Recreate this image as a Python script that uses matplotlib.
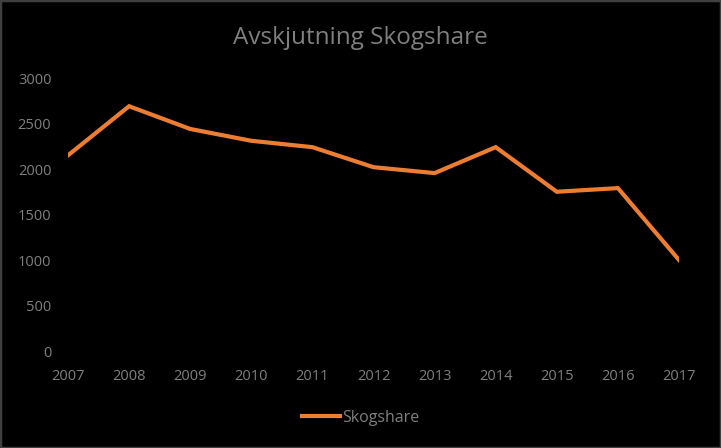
import matplotlib
matplotlib.use("Agg")
import matplotlib.pyplot as plt
from matplotlib.patches import Ellipse, Rectangle

years = ["2007", "2008", "2009", "2010", "2011", "2012", "2013", "2014", "2015", "2016", "2017"]
skogshare = [2150, 2690, 2440, 2310, 2240, 2020, 1955, 2240, 1750, 1790, 1000]
yticks = [0, 500, 1000, 1500, 2000, 2500, 3000]

plt.rcParams['font.family'] = ['Open Sans', 'DejaVu Sans']
W, H = 721, 448
fig = plt.figure(figsize=(W / 100, H / 100), dpi=100, facecolor='black')
ax = fig.add_axes([68 / W, 1 - 351 / H, (679 - 68) / W, (351 - 78) / H])
ax.set_facecolor('black')

x = list(range(len(years)))
ax.plot(x, skogshare, color='#ED7D31', lw=3.0, solid_joinstyle='miter', label='Skogshare', zorder=3)

ax.set_xlim(0, len(years) - 1)
ax.set_ylim(0, 3000)
ax.set_yticks(yticks)
ax.set_yticklabels([str(v) for v in yticks])
ax.set_xticks(x)
ax.set_xticklabels(years)
for s in ax.spines.values():
    s.set_visible(False)
ax.tick_params(axis='both', length=0, colors='#7f7f7f', labelsize=10.5)
ax.tick_params(axis='y', pad=12)
ax.tick_params(axis='x', pad=13)

# faint watermark logo
logo = Ellipse((180 / W, 1 - 160 / H), 50 / W, 80 / H, transform=fig.transFigure,
               fill=False, edgecolor='#143f20', lw=1.5, zorder=0)
fig.add_artist(logo)

fig.text(0.5, 1 - 38 / H, 'Avskjutning Skogshare', ha='center', va='center',
         color='#7f7f7f', fontsize=17.5)

leg = fig.legend(loc='center', bbox_to_anchor=(0.5, 1 - 418 / H), frameon=False,
                 fontsize=11.5, handlelength=2.4, handletextpad=0.1)
for t in leg.get_texts():
    t.set_color('#7f7f7f')

border = Rectangle((0, 0), 1, 1, transform=fig.transFigure, fill=False,
                   edgecolor='#404040', lw=2.5)
fig.add_artist(border)

fig.savefig('out.png', dpi=100, facecolor='black')
